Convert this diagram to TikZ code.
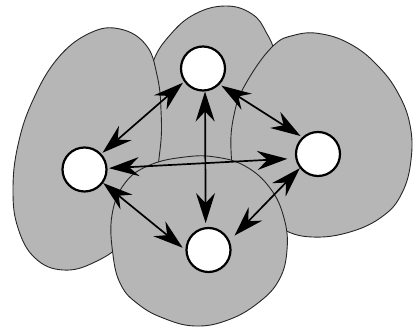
\documentclass[tikz,border=0pt]{standalone}
\usetikzlibrary{arrows.meta}
\definecolor{blobgray}{RGB}{182,182,182}
\tikzset{
  blob/.style={fill=blobgray, draw=black!85, line width=0.9pt},
  station/.style={circle, draw=black, fill=white, line width=2.2pt, minimum size=44pt, inner sep=0pt},
  link/.style={line width=1.7pt, {Stealth[length=30pt,width=19pt,inset=10pt]}-{Stealth[length=30pt,width=19pt,inset=10pt]}}
}
\begin{document}
\begin{tikzpicture}[x=1pt,y=-1pt]
\useasboundingbox (0,0) rectangle (418,328);
% top blob
\draw[blob] plot[smooth cycle, tension=0.7] coordinates {
  (153,62) (170,35) (195,14) (226,6) (252,14) (266,32) (274,55)
  (270,95) (250,135) (240,185) (200,192) (160,185) (150,140) (148,95)};
% left blob
\draw[blob] plot[smooth cycle, tension=0.7] coordinates {
  (120,29) (146,45) (157,75) (161,110) (160,150) (150,200) (125,240) (95,262)
  (63,270) (35,258) (18,228) (13,190) (18,145) (33,100) (58,58) (90,33)};
% right blob
\draw[blob] plot[smooth cycle, tension=0.7] coordinates {
  (272,47) (295,35) (322,34) (352,45) (378,66) (398,93) (410,125)
  (411,160) (402,193) (383,216) (350,232) (312,237) (282,229)
  (255,210) (237,185) (231,150) (234,115) (245,85)};
% bottom blob
\draw[blob] plot[smooth cycle, tension=0.7] coordinates {
  (112,215) (125,183) (150,165) (185,157) (215,157) (245,166) (270,188)
  (284,218) (287,250) (279,280) (258,303) (228,320) (195,326) (163,318)
  (138,304) (121,285) (113,255)};
% stations
\node[station] (T) at (203,68.5) {};
\node[station] (L) at (84.5,169.5) {};
\node[station] (R) at (318,154) {};
\node[station] (B) at (208.5,250) {};
% links
\draw[link, shorten <=1.5pt, shorten >=1.5pt] (T.215) -- (L.43);
\draw[link, shorten <=2pt, shorten >=2pt] (T.-44) -- (R.133);
\draw[link, shorten >=4pt] (T.-85) -- (B.97);
\draw[link, shorten <=1.5pt, shorten >=8pt] (L.3) -- (R.191);
\draw[link, shorten >=3.5pt] (L.-36) -- (B.180);
\draw[link, shorten >=7pt] (R.218) -- (B.24);
\end{tikzpicture}
\end{document}
